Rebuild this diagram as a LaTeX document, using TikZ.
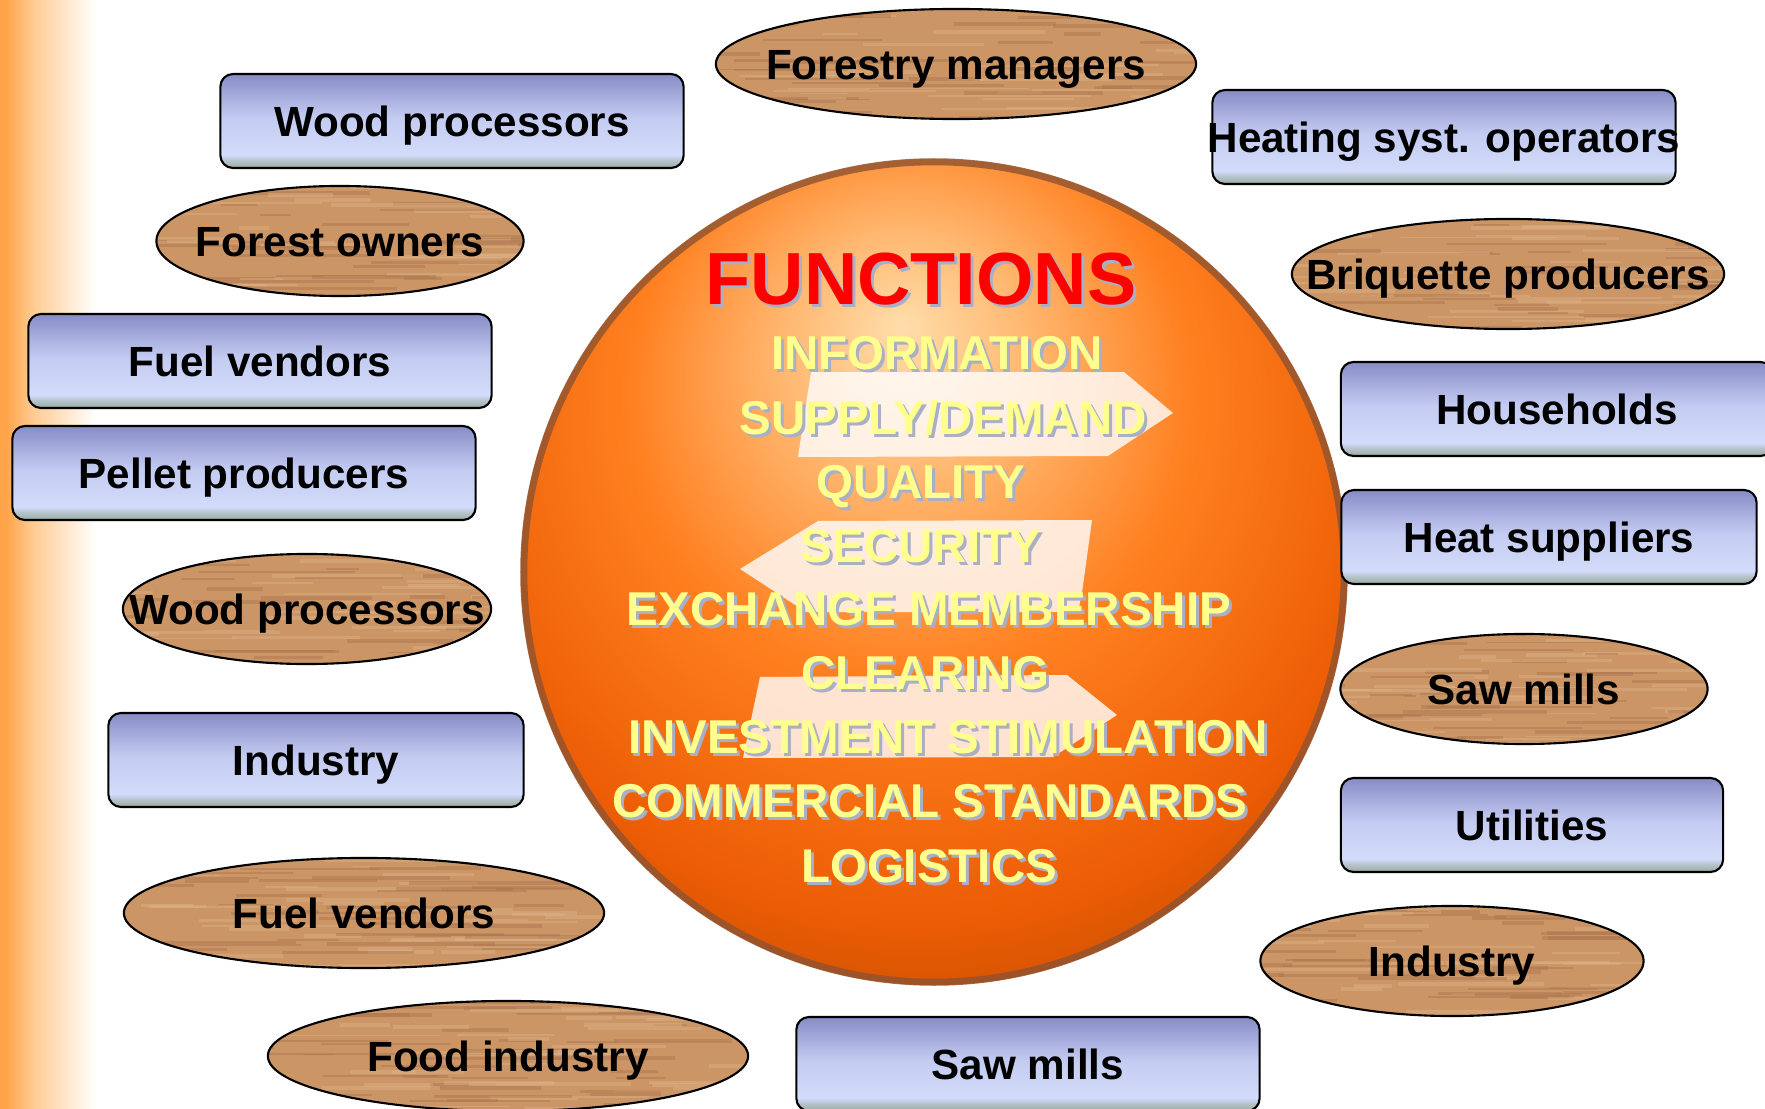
\documentclass[tikz,border=0pt]{standalone}
\usepackage{fontspec}
\setmainfont{Liberation Sans}
\usepackage{xcolor}
\usepackage{tikz}
\usetikzlibrary{shapes.geometric,calc}

\definecolor{stripdark}{HTML}{FFA448}
\definecolor{stripmid}{HTML}{FFCB92}
\definecolor{actortop}{HTML}{878CC6}
\definecolor{actormid}{HTML}{C3CBF1}
\definecolor{actorlow}{HTML}{D3DCFA}
\definecolor{actorfoot}{HTML}{98AA9C}
\definecolor{woodbase}{HTML}{CB9565}
\definecolor{woodlight}{HTML}{DEB68C}
\definecolor{wooddark}{HTML}{A9714A}
\definecolor{orbhi}{HTML}{FFDDAA}
\definecolor{orbpeach}{HTML}{FFBA74}
\definecolor{orbmid}{HTML}{FF8020}
\definecolor{orblow}{HTML}{EC5C04}
\definecolor{orbdark}{HTML}{A44300}
\definecolor{orbrim}{HTML}{8E5330}
\definecolor{fnyellow}{HTML}{FFFF8E}
\definecolor{fnshadow}{HTML}{A9AFC4}

\pgfdeclarehorizontalshading{stripshade}{100bp}{color(0bp)=(stripdark); color(28bp)=(stripdark); color(42bp)=(stripmid); color(75bp)=(white); color(100bp)=(white)}
\pgfdeclareverticalshading{actorshade}{100bp}{color(0bp)=(actorfoot); color(25bp)=(actorfoot); color(29bp)=(actorfoot!50!actorlow); color(32bp)=(actorlow); color(52bp)=(actormid); color(75bp)=(actortop); color(100bp)=(actortop)}
\pgfdeclareradialshading{orbshade}{\pgfpoint{-2bp}{15bp}}{color(0bp)=(orbhi); color(7bp)=(orbpeach); color(17bp)=(orbmid); color(29bp)=(orblow); color(37bp)=(orbdark!70!orblow); color(43bp)=(orbdark); color(60bp)=(orbdark)}

\newcommand\tagtext[1]{\makebox[0pt]{#1}}

\begin{document}
\begin{tikzpicture}%
                [x={(0.01cm, 0cm)},
                y={(0cm, -0.01cm)},
                actor/.style={rectangle, rounded corners=3.6pt, draw=black, line width=0.6pt,
                  shade, shading=actorshade, minimum width=4.63cm, minimum height=0.94cm,
                  inner sep=0pt, text height=8.6pt, text depth=0pt,
                  font=\bfseries\fontsize{12}{14}\selectfont},
                wood/.style={ellipse, draw=black, line width=0.6pt, fill=woodbase,
                  minimum width=4.8cm, minimum height=1.1cm,
                  inner sep=0pt, text height=8.6pt, text depth=0pt,
                  font=\bfseries\fontsize{12}{14}\selectfont,
                  path picture={
                    \foreach \k in {1,...,80}{
                      \pgfmathsetmacro\gx{500*rnd-270}
                      \pgfmathsetmacro\gy{112*rnd-56}
                      \pgfmathsetmacro\gl{30+140*rnd}
                      \pgfmathsetmacro\gw{0.4+0.8*rnd}
                      \ifodd\k \def\gc{woodlight}\else\def\gc{wooddark}\fi
                      \draw[\gc, line width=\gw pt, opacity=0.4]
                        ($(path picture bounding box.center)+(\gx,\gy)$) -- ++(\gl,0);
                    }}},
                fnitem/.style={text=fnyellow, inner sep=0pt, text height=9.7pt, text depth=0pt,
                  font=\bfseries\fontsize{13.5}{16}\selectfont},
                fnback/.style={fnitem, text=fnshadow},
                fntitle/.style={text=red, inner sep=0pt, text height=15pt, text depth=0pt,
                  font=\bfseries\fontsize{21}{24}\selectfont},
                fnpointer/.style={fill=white, fill opacity=0.8}]
            %
            \pgfmathsetseed{4711}
            \clip (0,0) rectangle (1765,1109);
            %% Left margin strip
            \shade[shading=stripshade] (0,0) rectangle (96,1109);
            %%
            %% The orb
            %%
            \coordinate (orb) at (934,572);
            \shade[shading=orbshade] (orb) circle [radius=4.13cm];
            \draw[orbrim, line width=2pt, opacity=0.8] (orb) circle [radius=4.10cm];
            %%
            %% Pointers behind the functions
            %%
            \fill[fnpointer] (811,372) -- (1124,372) -- (1173,413) -- (1108,456) -- (798,457) -- cycle;
            \fill[fnpointer] (740,569) -- (818,521) -- (1092,520) -- (1082,593) -- (1078,612) -- (806,612) -- cycle;
            \fill[fnpointer] (760,677) -- (1067,675) -- (1117,715) -- (1053,757) -- (743,758) -- cycle;
            %%
            %% Functions
            %%
            \node[fntitle, text=fnshadow] (fntitle-s) at (924,281) {FUNCTIONS};
            \node[fntitle] (fntitle) at (921,278) {FUNCTIONS};
            \foreach \i/\fx/\fy/\ftext in {1/937/352/INFORMATION, 2/943/417/SUPPLY\slash DEMAND,
                3/921/481/QUALITY, 4/921/545/SECURITY, 5/929/608/EXCHANGE MEMBERSHIP,
                6/925/672/CLEARING, 7/948/736/INVESTMENT STIMULATION,
                8/930/800/COMMERCIAL STANDARDS, 9/929/865/LOGISTICS}{
              \node[fnback] (fn\i-s) at (\fx+3,\fy+3) {\ftext};
              \node[fnitem] (fn\i) at (\fx,\fy) {\ftext};
            }
            %%
            %% Market actors, left side
            %%
            \node[actor] (woodproc) at (452,121) {\tagtext{Wood processors}};
            \node[wood, minimum width=3.67cm] (forestown) at (340,241) {\tagtext{Forest owners}};
            \node[actor] (fuelvend) at (260,361) {\tagtext{Fuel vendors}};
            \node[actor] (pellet) at (244,473) {\tagtext{Pellet producers}};
            \node[wood, minimum width=3.68cm] (woodproc-w) at (307,609) {\tagtext{Wood processors}};
            \node[actor, minimum width=4.15cm] (industry) at (316,760) {\tagtext{Industry}};
            \node[wood] (fuelvend-w) at (364,913) {\tagtext{Fuel vendors}};
            \node[wood] (food-w) at (508,1056) {\tagtext{Food industry}};
            %%
            %% Market actors, top, right side and bottom
            %%
            \node[wood] (forestry-w) at (956,64) {\tagtext{Forestry managers}};
            \node[actor] (heating) at (1444,137) {\tagtext{Heating syst. operators}};
            \node[wood, minimum width=4.32cm] (briquette-w) at (1508,274) {\tagtext{Briquette producers}};
            \node[actor, minimum width=4.32cm] (households) at (1557,409) {\tagtext{Households}};
            \node[actor, minimum width=4.15cm] (heatsup) at (1549,537) {\tagtext{Heat suppliers}};
            \node[wood, minimum width=3.67cm] (sawmills-w) at (1524,689) {\tagtext{Saw mills}};
            \node[actor, minimum width=3.82cm] (utilities) at (1532,825) {\tagtext{Utilities}};
            \node[wood, minimum width=3.83cm] (industry-w) at (1452,961) {\tagtext{Industry}};
            \node[actor] (sawmills) at (1028,1064) {\tagtext{Saw mills}};
            %%
\end{tikzpicture}
\end{document}
